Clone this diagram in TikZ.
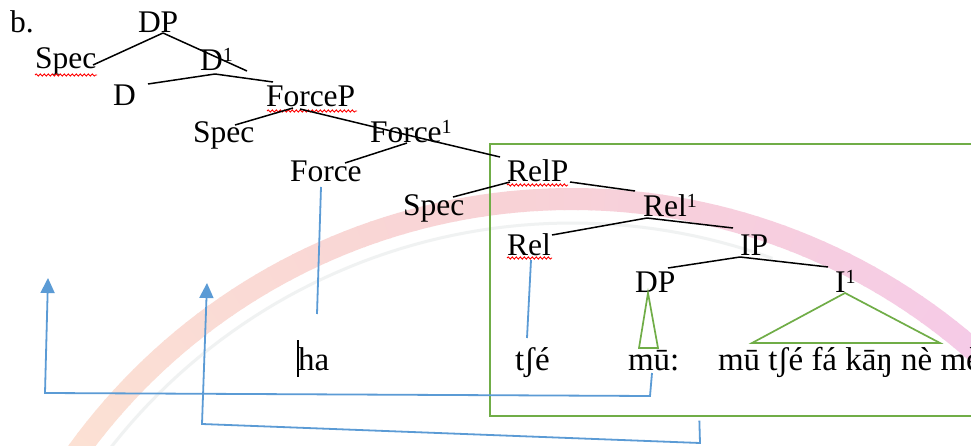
\documentclass[tikz,border=0pt]{standalone}
\usepackage{fontspec}
\setmainfont{Liberation Serif}
\usetikzlibrary{arrows.meta,decorations.pathmorphing}
\definecolor{arcL}{RGB}{252,226,212}
\definecolor{arcM}{RGB}{248,210,214}
\definecolor{arcR}{RGB}{245,202,233}
\definecolor{faintgrey}{RGB}{240,242,242}
\definecolor{lineblue}{RGB}{91,155,213}
\definecolor{boxgreen}{RGB}{112,173,71}
\newcommand{\supone}{\raisebox{9pt}{\fontsize{20}{20}\selectfont 1}}
\begin{document}
\begin{tikzpicture}[x=1pt,y=-1pt,
  lbl/.style={anchor=base west, inner sep=0pt, outer sep=0pt, font=\fontsize{31.5}{36}\selectfont},
  wordlbl/.style={lbl, font=\fontsize{33}{38}\selectfont},
  branch/.style={draw=black, line width=1.5pt},
  bluel/.style={draw=lineblue, line width=1.8pt},
  greenl/.style={draw=boxgreen, line width=1.7pt},
  spell/.style={draw=red, line width=0.9pt, decorate, decoration={snake, amplitude=1.1pt, segment length=4pt}},
  tip/.style={-{Triangle[width=14pt,length=15pt]}}
]
\useasboundingbox (0,0) rectangle (971,446);
\fill[white] (0,0) rectangle (971,446);

% background arc (gradient band)
\foreach \i in {0,...,79}{
  \pgfmathsetmacro{\aa}{-148+\i*1.3}
  \pgfmathsetmacro{\ab}{\aa+1.45}
  \pgfmathtruncatemacro{\p}{\i<40 ? 100-\i*2.5 : 100-(\i-40)*2.5}
  \ifnum\i<40
    \colorlet{segc}{arcL!\p!arcM}
  \else
    \colorlet{segc}{arcM!\p!arcR}
  \fi
  \draw[segc, line width=22pt] plot[domain=\aa:\ab, samples=3] ({572+610*cos(\x)},{809+610*sin(\x)});
}
\draw[faintgrey, line width=3pt] plot[domain=-148:-70, samples=60] ({572+586*cos(\x)},{809+586*sin(\x)});

% green box
\node[draw=boxgreen, line width=1.7pt, inner sep=0pt, minimum width=501pt, minimum height=272pt, anchor=north west] (box) at (489,143) {};

% labels
\node[lbl] (b) at (10,33) {b.};
\node[lbl] (DP) at (138,33) {DP};
\node[lbl] (Spec1) at (35,69) {Spec};
\node[lbl] (D1) at (200,71) {D\supone};
\node[lbl] (D) at (113,106) {D};
\node[lbl] (ForceP) at (266,107) {ForceP};
\node[lbl] (Spec2) at (193,143) {Spec};
\node[lbl] (Force1) at (370,143) {Force\supone};
\node[lbl] (Force) at (290,182) {Force};
\node[lbl] (RelP) at (507,182) {RelP};
\node[lbl] (Spec3) at (403,216) {Spec};
\node[lbl] (Rel1) at (643,217) {Rel\supone};
\node[lbl] (Rel) at (507,255) {Rel};
\node[lbl] (IP) at (740,255) {IP};
\node[lbl] (DP2) at (635,292) {DP};
\node[lbl] (I1) at (835,292) {I\supone};
\node[wordlbl] (ha) at (298,370) {ha};
\node[wordlbl] (tse) at (515,370) {tʃé};
\node[wordlbl] (mu) at (628,370) {mū:};
\node[wordlbl] (phrase) at (718,370) {mū tʃé fá kāŋ nè mè};

% spelling underlines and cursor
\draw[spell] ([shift={(0,6)}]Spec1.base west) -- ++(62,0);
\draw[spell] ([shift={(1,4)}]ForceP.base west) -- ++(90,0);
\draw[spell] ([shift={(0,3)}]RelP.base west) -- ++(61,0);
\draw[spell] ([shift={(0,3)}]Rel.base west) -- ++(45,0);
\draw[line width=1.2pt] ([shift={(0,-30)}]ha.base west) -- ([shift={(0,7)}]ha.base west);

% tree branches
\draw[branch] ([shift={(25,0)}]DP.base west) -- ([shift={(58,-4)}]Spec1.base west);
\draw[branch] ([shift={(25,0)}]DP.base west) -- ([shift={(47,0)}]D1.base west);
\draw[branch] ([shift={(15,3)}]D1.base west) -- ([shift={(35,-22)}]D.base west);
\draw[branch] ([shift={(15,3)}]D1.base west) -- ([shift={(7,-25)}]ForceP.base west);
\draw[branch] ([shift={(27,1)}]ForceP.base west) -- ([shift={(42,-18)}]Spec2.base west);
\draw[branch] ([shift={(34,2)}]ForceP.base west) -- ([shift={(50,-5)}]Force1.base west) -- ([shift={(-7,-25)}]RelP.base west);
\draw[branch] ([shift={(37,0)}]Force1.base west) -- ([shift={(55,-19)}]Force.base west);
\draw[branch] ([shift={(3,0)}]RelP.base west) -- ([shift={(50,-19)}]Spec3.base west);
\draw[branch] ([shift={(63,0)}]RelP.base west) -- ([shift={(-8,-26)}]Rel1.base west);
\draw[branch] ([shift={(4,1)}]Rel1.base west) -- ([shift={(45,-20)}]Rel.base west);
\draw[branch] ([shift={(4,1)}]Rel1.base west) -- ([shift={(-7,-27)}]IP.base west);
\draw[branch] ([shift={(0,2)}]IP.base west) -- ([shift={(33,-24)}]DP2.base west);
\draw[branch] ([shift={(0,2)}]IP.base west) -- ([shift={(-7,-25)}]I1.base west);

% green triangles
\draw[greenl] ([shift={(13,1)}]DP2.base west) -- ([shift={(11,-22)}]mu.base west) -- ([shift={(30,-22)}]mu.base west) -- cycle;
\draw[greenl] ([shift={(10,1)}]I1.base west) -- ([shift={(34,-27)}]phrase.base west) -- ([shift={(222,-27)}]phrase.base west) -- cycle;

% blue lines
\draw[bluel] ([shift={(31,5)}]Force.base west) -- ([shift={(19,-56)}]ha.base west);
\draw[bluel] ([shift={(24,5)}]Rel.base west) -- ([shift={(12,-32)}]tse.base west);
\coordinate (c1a) at (650,396);
\coordinate (c1b) at (45,393);
\coordinate (t1) at (48,278);
\draw[bluel, tip] ([shift={(24,3)}]mu.base west) -- (c1a) -- (c1b) -- (t1);
\coordinate (c2a) at (700,443);
\coordinate (c2b) at (202,424);
\coordinate (t2) at (207,283);
\draw[bluel, tip] ([shift={(-41,4)}]box.south) -- (c2a) -- (c2b) -- (t2);
\end{tikzpicture}
\end{document}
